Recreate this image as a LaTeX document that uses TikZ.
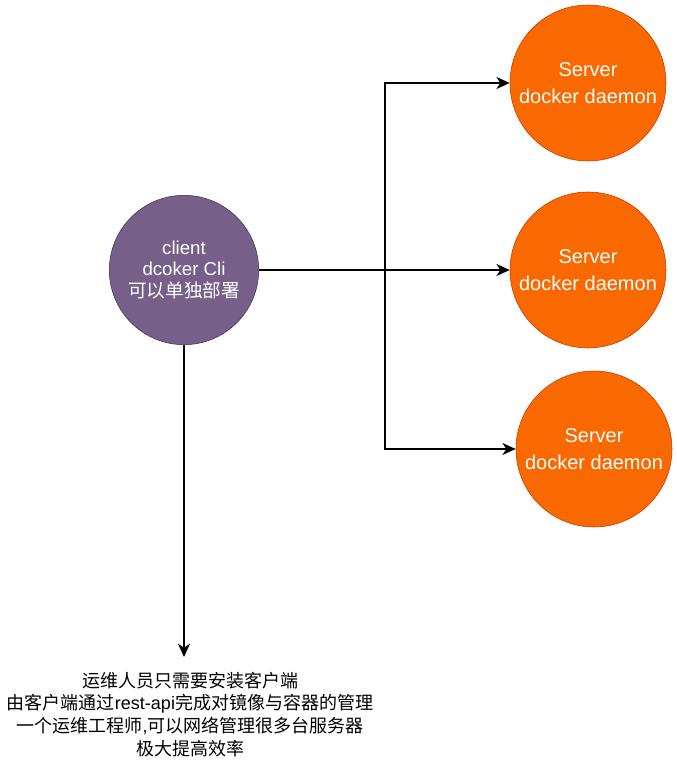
\documentclass[tikz,border=0pt]{standalone}
\usepackage{fontspec}
\setmainfont{Liberation Sans}
\newfontfamily\cjk{Noto Sans CJK SC}
\usetikzlibrary{arrows.meta,positioning,calc}
\definecolor{cliPurple}{HTML}{76608A}
\definecolor{cliEdge}{HTML}{432D57}
\definecolor{srvOrange}{HTML}{FA6800}
\definecolor{srvEdge}{HTML}{C73500}

\begin{document}
\begin{tikzpicture}[x=0.75pt,y=-0.75pt,
    cli/.style={circle,draw=cliEdge,fill=cliPurple,text=white,minimum size=112pt,inner sep=0pt,align=center,font=\fontsize{14}{16}\selectfont},
    srv/.style={circle,draw=srvEdge,fill=srvOrange,text=white,minimum size=117pt,inner sep=0pt,align=center,font=\fontsize{15}{20}\selectfont},
    arr/.style={-{Stealth[length=10pt,width=9pt,inset=3pt]},line width=1.1pt}]
    \useasboundingbox (0,0) rectangle (677,770);
    \node[cli] (client) at (184,270) {client\\dcoker Cli\\{\cjk 可以单独部署}};
    \node[srv] (srvA) at (588,83) {Server\\docker daemon};
    \node[srv] (srvB) at (588,270) {Server\\docker daemon};
    \node[srv] (srvC) at (594,449) {Server\\docker daemon};
    \coordinate (hub) at (385,270);
    \draw[arr] (client.east) -- (hub) |- (srvA.west);
    \draw[arr] (client.east) -- (srvB.west);
    \draw[arr] (hub) |- (srvC.west);
    \node[align=center,font=\fontsize{13.5}{17}\selectfont,anchor=north] (note) at (190,667)
      {{\cjk 运维人员只需要安装客户端}\\
       {\cjk 由客户端通过}rest-api{\cjk 完成对镜像与容器的管理}\\
       {\cjk 一个运维工程师}{,}{\cjk 可以网络管理很多台服务器}\\
       {\cjk 极大提高效率}};
    \draw[arr] (client.south) -- (client.south |- {(0,657)});
\end{tikzpicture}
\end{document}
